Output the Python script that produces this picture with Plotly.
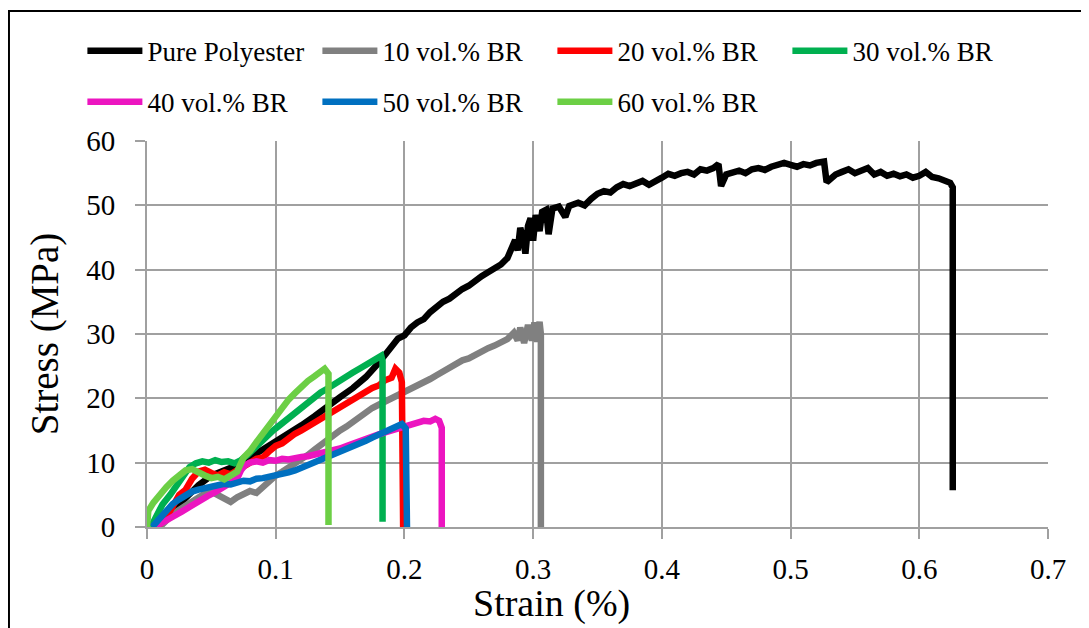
import plotly.graph_objects as go

# ---------------- data ----------------
names = ["Pure Polyester", "10 vol.% BR", "20 vol.% BR", "30 vol.% BR",
         "40 vol.% BR", "50 vol.% BR", "60 vol.% BR"]
colors = ["#000000", "#808080", "#FF0000", "#00B050", "#EC15C0", "#0070C0", "#6CCF45"]

pure_x = [0.005, 0.01, 0.02, 0.03, 0.04, 0.05, 0.06, 0.07, 0.08, 0.09, 0.10, 0.11, 0.12, 0.13,
          0.14, 0.15, 0.16, 0.17, 0.18, 0.185, 0.19, 0.195, 0.20, 0.205, 0.21, 0.215, 0.22,
          0.225, 0.23, 0.235, 0.24, 0.245, 0.25, 0.255, 0.26, 0.265, 0.27, 0.275, 0.28, 0.283,
          0.286, 0.288, 0.29, 0.292, 0.294, 0.296, 0.298, 0.300, 0.302, 0.305, 0.307, 0.31,
          0.312, 0.315, 0.32, 0.325, 0.328, 0.335, 0.34, 0.345, 0.35, 0.355, 0.36, 0.365, 0.37,
          0.375, 0.38, 0.385, 0.39, 0.395, 0.40, 0.405, 0.41, 0.415, 0.42, 0.425, 0.43, 0.435,
          0.44, 0.444, 0.446, 0.45, 0.455, 0.46, 0.465, 0.47, 0.475, 0.48, 0.485, 0.49, 0.495,
          0.50, 0.505, 0.51, 0.515, 0.52, 0.526, 0.528, 0.535, 0.54, 0.545, 0.55, 0.555, 0.56,
          0.565, 0.57, 0.575, 0.58, 0.585, 0.59, 0.595, 0.60, 0.605, 0.61, 0.615, 0.62, 0.624,
          0.626, 0.626]
pure_y = [0.0, 0.8, 2.5, 4.5, 6.5, 8.0, 8.8, 9.6, 10.8, 12.0, 13.2, 14.5, 15.8, 17.2,
          18.8, 20.2, 21.6, 23.3, 25.5, 26.8, 28.2, 29.3, 29.8, 31.0, 31.8, 32.3, 33.4,
          34.3, 35.0, 35.5, 36.3, 37.0, 37.5, 38.4, 39.0, 39.6, 40.2, 40.8, 41.8, 43.5,
          44.6, 43.0, 46.5, 45.0, 42.5, 46.8, 48.0, 44.5, 48.5, 46.0, 49.0, 49.3,
          45.5, 49.5, 49.8, 48.2, 49.9, 50.4, 50.0, 51.0, 51.8, 52.2, 52.0, 52.8, 53.3,
          53.0, 53.5, 53.8, 53.2, 53.9, 54.3, 54.9, 54.6, 55.0, 55.2, 54.8, 55.6, 55.4,
          55.8, 56.4, 53.0, 54.8, 55.2, 55.4, 55.0, 55.6, 55.8, 55.5, 56.0, 56.2, 56.6,
          56.3, 56.0, 56.4, 56.2, 56.6, 56.8, 53.6, 54.8, 55.2, 55.6, 55.0, 55.4, 55.8,
          54.8, 55.2, 54.6, 54.9, 54.5, 54.8, 54.3, 54.6, 55.2, 54.4, 54.2, 53.9, 53.5,
          52.8, 5.7]

br10_x = [0.01, 0.015, 0.02, 0.03, 0.04, 0.045, 0.05, 0.055, 0.06, 0.065, 0.07, 0.075, 0.08,
          0.085, 0.09, 0.095, 0.10, 0.105, 0.11, 0.115, 0.12, 0.125, 0.13, 0.135, 0.14, 0.145,
          0.15, 0.155, 0.16, 0.165, 0.17, 0.175, 0.18, 0.185, 0.19, 0.195, 0.20, 0.205, 0.21,
          0.215, 0.22, 0.225, 0.23, 0.235, 0.24, 0.245, 0.25, 0.255, 0.26, 0.265, 0.27, 0.275,
          0.28, 0.285, 0.288, 0.29, 0.293, 0.296, 0.299, 0.301, 0.303, 0.305, 0.306, 0.306]
br10_y = [0.0, 1.0, 2.0, 3.3, 4.5, 5.2, 5.5, 5.0, 4.6, 3.9, 4.6, 5.0, 5.6,
          5.3, 6.2, 7.2, 8.0, 8.6, 9.2, 9.8, 10.5, 11.2, 12.0, 12.8, 13.5, 14.2,
          15.0, 15.6, 16.4, 17.0, 17.8, 18.5, 19.0, 19.5, 20.0, 20.4, 21.0, 21.3, 21.8,
          22.4, 23.0, 23.6, 24.2, 24.7, 25.2, 25.9, 26.2, 26.8, 27.2, 27.8, 28.2, 28.8,
          29.2, 30.2, 29.0, 31.0, 28.6, 31.4, 29.0, 31.8, 28.8, 31.9, 30.0, 0.0]

br20_x = [0.008, 0.015, 0.02, 0.025, 0.03, 0.035, 0.04, 0.045, 0.05, 0.055, 0.06, 0.065, 0.07,
          0.075, 0.08, 0.085, 0.09, 0.095, 0.10, 0.105, 0.11, 0.115, 0.12, 0.125, 0.13, 0.135,
          0.14, 0.145, 0.15, 0.155, 0.16, 0.165, 0.17, 0.175, 0.18, 0.185, 0.19, 0.193, 0.196,
          0.198, 0.199]
br20_y = [0.0, 1.5, 3.2, 5.0, 5.8, 7.5, 8.6, 8.9, 8.4, 8.0, 8.5, 8.2, 8.8,
          9.3, 10.0, 10.6, 10.8, 11.8, 12.6, 13.0, 13.8, 14.5, 15.0, 15.6, 16.2, 16.8,
          17.5, 18.0, 18.7, 19.2, 19.9, 20.5, 21.0, 21.6, 22.0, 22.8, 23.2, 24.6, 24.0,
          22.5, 0.0]

br30_x = [0.003, 0.008, 0.012, 0.018, 0.022, 0.028, 0.033, 0.038, 0.043, 0.048, 0.053, 0.058,
          0.063, 0.068, 0.073, 0.078, 0.083, 0.088, 0.093, 0.098, 0.103, 0.108, 0.113, 0.118,
          0.124, 0.13, 0.135, 0.14, 0.145, 0.15, 0.155, 0.16, 0.165, 0.17, 0.175, 0.179,
          0.182, 0.183, 0.183]
br30_y = [0.0, 2.0, 3.5, 5.0, 6.2, 7.8, 9.3, 9.9, 10.2, 10.0, 10.4, 10.1,
          10.2, 9.9, 10.4, 11.2, 12.2, 13.0, 14.1, 15.0, 15.8, 16.6, 17.4, 18.3,
          19.3, 20.2, 20.9, 21.5, 22.2, 22.8, 23.4, 24.0, 24.6, 25.2, 25.8, 26.3,
          26.6, 25.8, 0.8]

br40_x = [0.006, 0.012, 0.02, 0.027, 0.033, 0.04, 0.047, 0.053, 0.059, 0.064, 0.07, 0.073,
          0.076, 0.08, 0.085, 0.09, 0.095, 0.10, 0.105, 0.11, 0.115, 0.12, 0.125, 0.13, 0.135,
          0.14, 0.145, 0.15, 0.155, 0.16, 0.165, 0.17, 0.175, 0.18, 0.185, 0.19, 0.195, 0.20,
          0.205, 0.21, 0.215, 0.22, 0.224, 0.227, 0.229, 0.229]
br40_y = [0.0, 0.8, 1.6, 2.4, 3.2, 4.0, 4.8, 5.4, 6.2, 6.8, 7.5, 8.8,
          9.6, 10.0, 10.2, 10.0, 10.4, 10.3, 10.6, 10.5, 10.8, 10.9, 11.0, 11.2, 11.4,
          11.7, 12.0, 12.2, 12.6, 13.0, 13.3, 13.7, 14.0, 14.4, 14.7, 15.0, 15.3, 15.5,
          15.8, 16.2, 16.5, 16.4, 16.8, 16.5, 15.4, 0.0]

br50_x = [0.004, 0.008, 0.012, 0.016, 0.02, 0.025, 0.03, 0.035, 0.04, 0.045, 0.05, 0.055,
          0.06, 0.065, 0.07, 0.075, 0.08, 0.085, 0.09, 0.095, 0.10, 0.105, 0.11, 0.115, 0.12,
          0.125, 0.13, 0.135, 0.14, 0.145, 0.15, 0.155, 0.16, 0.165, 0.17, 0.175, 0.18, 0.185,
          0.19, 0.195, 0.198, 0.201, 0.202]
br50_y = [0.0, 1.0, 2.0, 2.8, 3.6, 4.3, 5.0, 5.5, 5.8, 6.0, 6.3, 6.5,
          6.7, 6.6, 7.0, 7.2, 7.1, 7.5, 7.6, 7.8, 7.9, 8.2, 8.5, 8.8, 9.2,
          9.6, 10.0, 10.4, 10.8, 11.2, 11.6, 12.1, 12.6, 13.0, 13.4, 13.9, 14.3, 14.7,
          15.1, 15.6, 16.0, 15.3, 0.0]

br60_x = [0.0, 0.001, 0.005, 0.01, 0.015, 0.02, 0.025, 0.03, 0.035, 0.04, 0.045, 0.05, 0.055,
          0.06, 0.065, 0.07, 0.075, 0.08, 0.085, 0.09, 0.095, 0.10, 0.105, 0.11, 0.115, 0.12,
          0.125, 0.13, 0.135, 0.138, 0.141, 0.141]
br60_y = [0.0, 2.5, 3.8, 5.2, 6.2, 7.2, 8.0, 8.8, 9.0, 8.4, 8.0, 7.6, 7.8,
          7.4, 7.9, 8.6, 10.8, 11.8, 13.2, 14.6, 15.8, 17.2, 18.5, 19.8, 20.8, 21.9,
          22.7, 23.4, 24.2, 24.6, 23.8, 0.3]

x_ticks = [0, 0.1, 0.2, 0.3, 0.4, 0.5, 0.6, 0.7]
x_ticklabels = ["0", "0.1", "0.2", "0.3", "0.4", "0.5", "0.6", "0.7"]
y_ticks = [0, 10, 20, 30, 40, 50, 60]
y_ticklabels = ["0", "10", "20", "30", "40", "50", "60"]
x_title = "Strain (%)"
y_title = "Stress (MPa)"

series_x = [pure_x, br10_x, br20_x, br30_x, br40_x, br50_x, br60_x]
series_y = [pure_y, br10_y, br20_y, br30_y, br40_y, br50_y, br60_y]

# ---------------- figure ----------------
FONT = "'Liberation Serif', 'DejaVu Serif', serif"
GRID = "#A0A0A0"

fig = go.Figure()
for i, (nm, col, xs, ys) in enumerate(zip(names, colors, series_x, series_y)):
    fig.add_trace(go.Scatter(
        x=xs, y=ys, mode="lines", name=nm,
        line=dict(color=col, width=6.5),
        legend="legend" if i < 4 else "legend2",
    ))

legend_common = dict(
    orientation="h", xanchor="left", yanchor="middle",
    font=dict(family=FONT, size=27, color="#000000"),
    itemwidth=55, entrywidth=165, entrywidthmode="pixels",
    bgcolor="rgba(0,0,0,0)", borderwidth=0, itemclick=False,
)

fig.update_layout(
    width=1089, height=628,
    margin=dict(l=139, r=49, t=133, b=109, autoexpand=False),
    paper_bgcolor="#FFFFFF", plot_bgcolor="#FFFFFF",
    showlegend=True,
    legend=dict(x=-0.0717, y=1.2327, **legend_common),
    legend2=dict(x=-0.0717, y=1.1007, **legend_common),
    xaxis=dict(
        range=[0, 0.7], tickvals=x_ticks, ticktext=x_ticklabels,
        showgrid=True, gridcolor=GRID, gridwidth=2,
        showline=True, linecolor=GRID, linewidth=2,
        ticks="outside", ticklen=10, tickwidth=2, tickcolor=GRID,
        tickfont=dict(family=FONT, size=29, color="#000000"),
        ticklabelstandoff=5,
        zeroline=False,
    ),
    yaxis=dict(
        range=[0, 60], tickvals=y_ticks, ticktext=y_ticklabels,
        showgrid=True, gridcolor=GRID, gridwidth=2,
        showline=True, linecolor=GRID, linewidth=2,
        ticks="outside", ticklen=10, tickwidth=2, tickcolor=GRID,
        tickfont=dict(family=FONT, size=29, color="#000000"),
        ticklabelstandoff=14,
        title=dict(text=y_title, font=dict(family=FONT, size=39, color="#000000"),
                   standoff=16),
        zeroline=False,
    ),
    annotations=[dict(text=x_title, xref="paper", yref="paper", x=0.4495, y=-0.1969,
                      xanchor="center", yanchor="middle", showarrow=False,
                      font=dict(family=FONT, size=38, color="#000000"))],
    shapes=[dict(type="rect", xref="paper", yref="paper",
                 x0=-0.1532, x1=1.2, y0=-0.4, y1=1.3368,
                 line=dict(color="#000000", width=2), fillcolor="rgba(0,0,0,0)",
                 layer="below")],
)

fig.write_html("out.html")
